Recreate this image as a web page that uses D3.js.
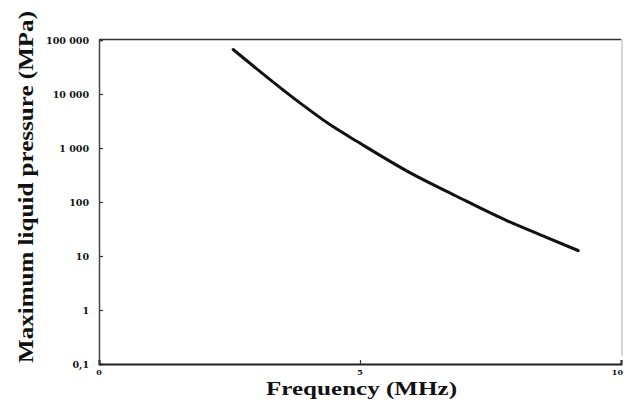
<!DOCTYPE html>
<html><head><meta charset="utf-8">
<script src="https://cdn.jsdelivr.net/npm/d3@7"></script>
<style>body{margin:0;background:#fff}svg{display:block}</style>
</head><body>
<script>
const freqMHz = [2.57, 3.83, 4.46, 4.98, 6.00, 6.84, 7.80, 8.56, 9.18];
const pressureMPa = [66700, 7080, 2570, 1260, 331, 129, 45.7, 22.4, 12.6];
const yTickValues = [100000, 10000, 1000, 100, 10, 1, 0.1];
const yTickLabels = ["100 000", "10 000", "1 000", "100", "10", "1", "0,1"];
const xTickValues = [0, 5, 10];
const xTickLabels = ["0", "5", "10"];

const W = 624, H = 406;
const svg = d3.select("body").append("svg").attr("width", W).attr("height", H);
const x = d3.scaleLinear().domain([0, 10]).range([99, 621]);
const y = d3.scaleLog().domain([0.1, 100000]).range([364, 40]);

// frame: top and right
svg.append("line").attr("x1", 99).attr("x2", 621).attr("y1", 39.5).attr("y2", 39.5)
  .attr("stroke", "#333").attr("stroke-width", 1.5);
svg.append("line").attr("x1", 622).attr("x2", 622).attr("y1", 39).attr("y2", 356)
  .attr("stroke", "#c8c8c8").attr("stroke-width", 1.5);

// y axis
const yAxis = d3.axisRight(y).tickValues(yTickValues).tickSize(4).tickFormat("");
const gy = svg.append("g").attr("transform", "translate(99,0)").call(yAxis);
gy.select(".domain").attr("stroke", "#444").attr("stroke-width", 1.5);
gy.selectAll(".tick line").attr("stroke", "#333").attr("stroke-width", 1.2);
svg.append("g").selectAll("text").data(yTickValues).join("text")
  .attr("x", 89).attr("y", d => y(d) + 3.5)
  .attr("text-anchor", "end")
  .attr("font-family", "DejaVu Serif").attr("font-weight", "bold").attr("font-size", 9.5)
  .attr("fill", "#111")
  .text((d, i) => yTickLabels[i]);

// x axis
const xAxis = d3.axisTop(x).tickValues(xTickValues).tickSize(4).tickFormat("");
const gx = svg.append("g").attr("transform", "translate(0,364)").call(xAxis);
gx.select(".domain").attr("stroke", "#222").attr("stroke-width", 2);
gx.selectAll(".tick line").attr("stroke", "#333").attr("stroke-width", 1.2);
svg.append("g").selectAll("text").data(xTickValues).join("text")
  .attr("x", (d, i) => i === 2 ? 623 : x(d)).attr("y", 375)
  .attr("text-anchor", (d, i) => i === 2 ? "end" : "middle")
  .attr("font-family", "DejaVu Serif").attr("font-weight", "bold").attr("font-size", 8)
  .attr("fill", "#111")
  .text((d, i) => xTickLabels[i]);

// curve
const line = d3.line().x(d => x(d[0])).y(d => y(d[1])).curve(d3.curveMonotoneX);
svg.append("path").datum(freqMHz.map((f, i) => [f, pressureMPa[i]]))
  .attr("d", line).attr("fill", "none").attr("stroke", "#111")
  .attr("stroke-width", 3).attr("stroke-linecap", "round");

// axis titles
svg.append("text").attr("transform", "translate(33,187) rotate(-90)")
  .attr("text-anchor", "middle")
  .attr("font-family", "Liberation Serif").attr("font-weight", "bold").attr("font-size", 21)
  .attr("textLength", 352).attr("lengthAdjust", "spacingAndGlyphs")
  .attr("fill", "#111")
  .text("Maximum liquid pressure (MPa)");
svg.append("text").attr("x", 361.5).attr("y", 395)
  .attr("text-anchor", "middle")
  .attr("font-family", "Liberation Serif").attr("font-weight", "bold").attr("font-size", 19)
  .attr("textLength", 191).attr("lengthAdjust", "spacingAndGlyphs")
  .attr("fill", "#111")
  .text("Frequency (MHz)");
</script>
</body></html>
